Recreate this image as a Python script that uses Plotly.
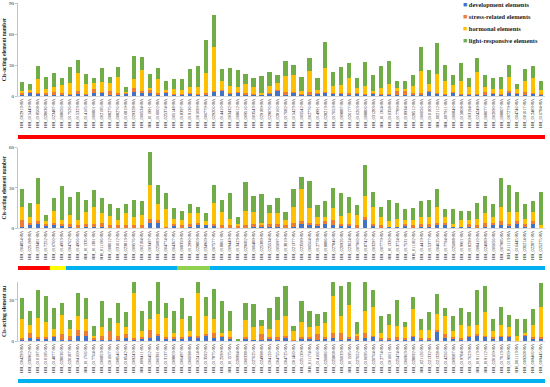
import plotly.graph_objects as go

W, H = 550, 387
ML, MR = 17, 4

ids1 = ("002913 015449 018508 028036 023487 008656 017526 015323 014165 000801 "
        "002195 008275 008276 016819 029328 000534 011991 010002 025374 005148 "
        "018397 019136 001099 006779 029206 014410 003432 008612 009516 003543 "
        "029189 029076 028160 017682 015423 005542 002776 014991 028213 017653 "
        "009887 026177 016263 008806 031283 011364 010358 017789 018934 028512 "
        "006056 010183 002112 007911 000840 015808 003194 024249 008077 002090 "
        "008807 007279 004746 001017 012483 016784").split()
ids2 = ("004854 025198 033481 017252 016700 014953 004762 014956 011335 011381 "
        "011196 008012 031012 023813 009576 002184 003497 025083 004774 004367 "
        "008359 012990 029803 034969 007577 018861 009449 013423 029682 006489 "
        "025389 025534 005097 013819 021377 023599 006564 012778 018886 027846 "
        "020926 023624 007960 018742 003297 007779 011330 013724 017531 011182 "
        "014419 015377 004625 017794 025088 019961 018299 008410 024089 005656 "
        "007985 011113 016445 030214 022871 025275").split()
ids3 = ("004293 030962 010197 010195 014877 028636 020187 004109 011766 017764 "
        "000853 001667 008546 018542 009243 009411 006452 006391 013137 009803 "
        "006497 006098 002414 013592 017875 012599 011575 020994 000338 027625 "
        "024998 004120 004755 004725 001460 025139 011174 014166 026086 025808 "
        "026033 011595 027652 010695 020764 012774 001661 025474 006963 028092 "
        "021126 021332 021328 014256 009587 019784 017623 019113 019112 020109 "
        "017013 019009 001113 009268 009466 009445").split()

dev1 = [1,3,2,1,1,1,1,2,1,3, 3,1,1,2,4,3,3,1,3,1, 1,2,1,1,4,5,2,3,1,1, 1,2,5,1,3,1,1,2,3,2,
        2,1,2,1,2,1,1,1,1,1, 1,4,2,1,3,1,1,1,1,2, 1,3,2,1,2,1]
stress1 = [2,1,1,2,3,2,1,3,1,4, 1,4,2,1,4,2,3,2,1,1, 1,1,1,2,1,1,1,1,2,1, 0,1,1,3,1,1,3,1,1,1,
           1,2,1,1,1,1,1,4,4,2, 2,1,1,1,1,1,1,1,3,1, 1,2,1,3,1,1]
horm1 = [2,2,13,4,5,8,11,17,10,6, 10,8,15,1,8,20,2,13,2,5, 4,6,7,19,42,9,7,5,9,7, 2,7,7,15,16,3,20,3,23,7,
         8,14,5,8,2,6,10,3,2,7, 21,7,18,13,7,13,7,21,5,4, 5,13,4,11,14,4]
light1 = [9,6,13,11,13,6,15,13,9,4, 13,5,10,5,23,13,13,11,9,9, 10,17,20,32,31,11,17,16,9,8, 16,13,7,15,10,13,13,11,25,13,
          17,15,9,23,15,21,22,7,8,10, 23,13,30,15,9,17,8,14,11,10, 11,12,5,11,12,9]

dev2 = [1,2,3,2,3,2,1,1,1,1, 1,1,1,1,1,1,4,4,0,2, 1,1,3,2,2,1,1,0,1,1, 1,1,1,1,1,4,3,2,3,2,
        2,2,0,7,2,1,1,1,2,1, 1,1,3,3,1,1,1,1,1,3, 2,2,4,1,4,0]
stress2 = [5,2,2,1,1,1,2,1,2,2, 3,1,1,1,1,1,3,2,1,1, 1,2,1,0,1,1,1,2,1,2, 2,2,2,1,3,1,1,1,2,4,
           1,1,2,1,1,1,0,0,1,1, 2,2,1,1,0,0,2,1,3,1, 3,1,1,2,1,0]
horm2 = [10,4,13,2,9,3,7,4,9,13, 7,7,4,9,6,8,25,12,13,4, 4,8,7,3,16,10,5,1,11,9, 1,8,8,4,12,24,11,5,3,9,
         6,8,8,16,13,6,4,6,3,4, 5,5,12,4,2,5,3,5,7,4, 11,9,7,4,7,2]
light2 = [13,11,19,5,9,25,13,21,9,12, 11,9,9,7,13,10,25,14,12,8, 7,7,5,6,13,9,19,5,21,12, 21,6,11,6,13,9,20,9,12,15,
          17,12,7,23,11,8,16,12,8,9, 12,13,13,6,11,7,7,12,13,10, 21,20,15,11,8,25]

dev3 = [1,2,2,2,3,1,1,4,4,1, 1,1,1,2,1,2,2,4,2,2, 2,3,2,4,2,3,2,0,2,1, 1,2,1,2,0,2,2,1,2,2,
        1,2,1,2,3,1,1,1,1,3, 1,1,7,2,2,1,3,4,3,2, 3,3,0,4,2,2]
stress3 = [1,4,1,1,1,4,3,4,3,1, 3,6,3,3,1,1,6,1,1,1, 1,1,2,1,4,1,1,0,1,0, 4,1,2,2,1,1,1,4,1,4,
           5,1,3,4,1,1,1,2,1,1, 1,1,1,3,1,1,1,1,1,1, 1,1,0,1,1,1]
horm3 = [14,6,14,11,5,14,5,10,9,2, 6,0,9,5,33,4,8,15,14,3, 13,3,31,13,10,2,4,0,12,9, 6,6,12,14,6,11,7,6,10,27,
         12,23,1,16,21,4,10,8,8,19, 6,6,12,13,4,10,7,7,17,4, 8,6,4,1,9,22]
light3 = [15,10,20,19,15,9,6,17,15,7, 19,10,15,11,8,15,13,23,11,16, 15,11,8,14,22,23,15,1,13,17, 4,15,17,22,4,15,12,9,8,10,
          22,17,9,21,12,12,8,19,4,9, 8,13,14,6,11,12,10,25,19,9, 13,9,12,10,11,17]

series_names = ["development elements", "stress-related elements", "hormonal elements", "light-responsive elements"]
series_colors = ["#4472C4", "#ED7D31", "#FFC000", "#70AD47"]

# group strips beneath each panel (colour, number of genes)
groups1 = [("#FF0000", 66)]
groups2 = [("#FF0000", 4), ("#FFFF00", 2), ("#00B0F0", 14), ("#92D050", 4), ("#00B0F0", 42)]
groups3 = [("#00B0F0", 66)]

panels = [
    (ids1, [dev1, stress1, horm1, light1], [0, 90], [0, 30, 60, 90], (96, 3), 137, groups1, "Cis-acting element number"),
    (ids2, [dev2, stress2, horm2, light2], [0, 60], [0, 30, 60], (228, 147.5), 268, groups2, "Cis-acting element number"),
    (ids3, [dev3, stress3, horm3, light3], [0, 43], [0, 30], (341, 282), 381, groups3, "Cis-acting element nu"),
]

SERIF = "Liberation Serif"
fig = go.Figure()
pw = W - ML - MR
xdom = [(18 - ML) / pw, (545 - ML) / pw]
shapes = []
for p, (ids, vals, yr, yt, (y0px, y1px), strip_px, groups, ytitle) in enumerate(panels):
    cats = ["HH_" + i + "-RA" for i in ids]
    sfx = "" if p == 0 else str(p + 1)
    for k in range(4):
        fig.add_trace(go.Bar(
            x=cats, y=vals[k], name=series_names[k],
            marker=dict(color=series_colors[k], line=dict(width=0)),
            legendgroup=series_names[k], showlegend=False,
            xaxis="x" + sfx, yaxis="y" + sfx))
    fig.update_layout(**{
        "xaxis" + sfx: dict(domain=xdom, anchor="y" + sfx, type="category",
                            tickmode="array", tickvals=cats, ticktext=cats,
                            tickangle=-90, tickfont=dict(size=4.4, family=SERIF, color="#222"),
                            showline=True, linecolor="#D9D9D9", linewidth=1, ticks="",
                            showgrid=False, range=[-0.5, len(cats) - 0.5], automargin=False),
        "yaxis" + sfx: dict(domain=[1 - y0px / H, 1 - y1px / H], anchor="x" + sfx, range=yr,
                            tickvals=yt, tickfont=dict(size=5, family=SERIF, color="#222"),
                            showline=True, linecolor="#A9C8EA", linewidth=1, ticks="outside",
                            ticklen=2, tickcolor="#A9C8EA", showgrid=False, zeroline=False,
                            title=dict(text="<b>" + ytitle + "</b>", font=dict(size=5.5, family=SERIF, color="#222"),
                                       standoff=2),
                            automargin=False),
    })
    start = 0
    ysp = 1 - strip_px / H
    for col, n in groups:
        shapes.append(dict(type="line", xref="x" + sfx, yref="paper",
                           x0=start - 0.5 - (0.15 if start == 0 else 0),
                           x1=start + n - 0.5 + (0.2 if start + n == len(cats) else 0),
                           y0=ysp, y1=ysp, line=dict(color=col, width=4)))
        start += n

# legend (built from the series names / colours)
annotations = []
for i, (nm, col) in enumerate(zip(series_names, series_colors)):
    ypx = 4.7 + 12.2 * i
    annotations.append(dict(
        xref="paper", yref="paper", x=(461 - ML) / pw, y=1 - ypx / H,
        xanchor="left", yanchor="middle", showarrow=False, align="left",
        text="<span style='color:%s;font-size:7px'>■</span> <b>%s</b>" % (col, nm),
        font=dict(size=6.4, family=SERIF, color="#222")))

fig.update_layout(
    width=W, height=H, barmode="stack", bargap=0.48,
    margin=dict(l=ML, r=MR, t=0, b=0),
    plot_bgcolor="white", paper_bgcolor="white",
    shapes=shapes, annotations=annotations, showlegend=False,
)
fig.write_html("out.html", config={"displayModeBar": False},
               post_script="document.body.style.margin='0px';")
